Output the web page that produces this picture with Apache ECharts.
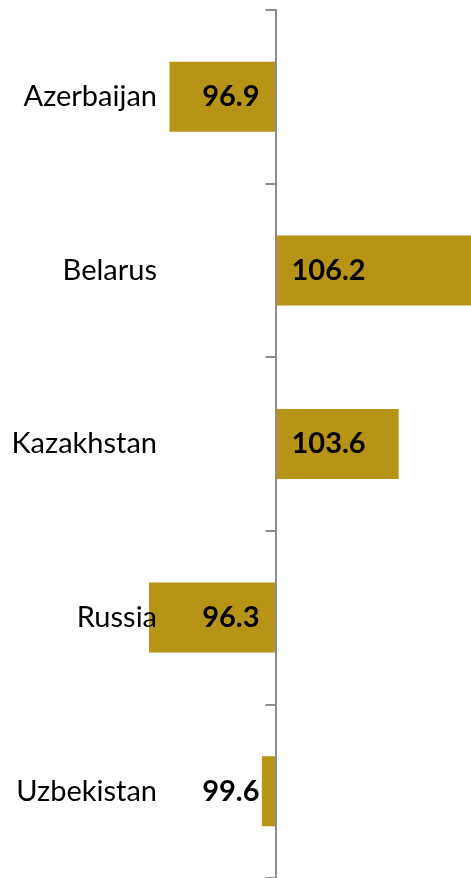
<!DOCTYPE html>
<html>
<head>
<meta charset="utf-8">
<script src="https://cdn.jsdelivr.net/npm/echarts@6/dist/echarts.min.js"></script>
<style>
  html, body { margin: 0; padding: 0; background: #fff; }
  #chart { width: 471px; height: 878px; }
</style>
</head>
<body>
<div id="chart"></div>
<script>
// index values, base = 100
const countries = ['Azerbaijan', 'Belarus', 'Kazakhstan', 'Russia', 'Uzbekistan'];
const values = [96.9, 106.2, 103.6, 96.3, 99.6];
const BASE = 100;

const chart = echarts.init(document.getElementById('chart'));

const barData = values.map(v => {
  const d = +(v - BASE).toFixed(1);
  return {
    value: d,
    label: {
      position: d < 0 ? 'insideRight' : 'insideLeft',
      distance: 16
    }
  };
});

chart.setOption({
  animation: false,
  grid: { left: 0, right: 0, top: 10, bottom: 0, containLabel: false, outerBoundsMode: 'none' },
  xAxis: {
    type: 'value',
    min: -8.056,
    max: 5.716,
    show: false,
    splitLine: { show: false }
  },
  yAxis: [{
    type: 'category',
    data: countries,
    inverse: true,
    z: 5,
    axisLine: { onZero: true, lineStyle: { color: '#8c8c8c', width: 2 } },
    axisTick: { show: true, length: 10, lineStyle: { color: '#8c8c8c', width: 2 } },
    axisLabel: { show: false }
  }, {
    // category names, placed left of the zero line
    type: 'category',
    data: countries,
    inverse: true,
    position: 'left',
    z: 6,
    axisLine: { show: false, onZero: false },
    axisTick: { show: false },
    axisLabel: {
      margin: -157,
      color: '#000',
      fontFamily: 'Lato',
      fontSize: 29
    }
  }],
  series: [{
    type: 'bar',
    data: barData,
    barWidth: 70,
    itemStyle: { color: '#b89416' },
    label: {
      show: true,
      color: '#000',
      fontFamily: 'Lato',
      fontWeight: 'bold',
      fontSize: 29,
      formatter: p => values[p.dataIndex].toFixed(1)
    }
  }]
});
</script>
</body>
</html>
